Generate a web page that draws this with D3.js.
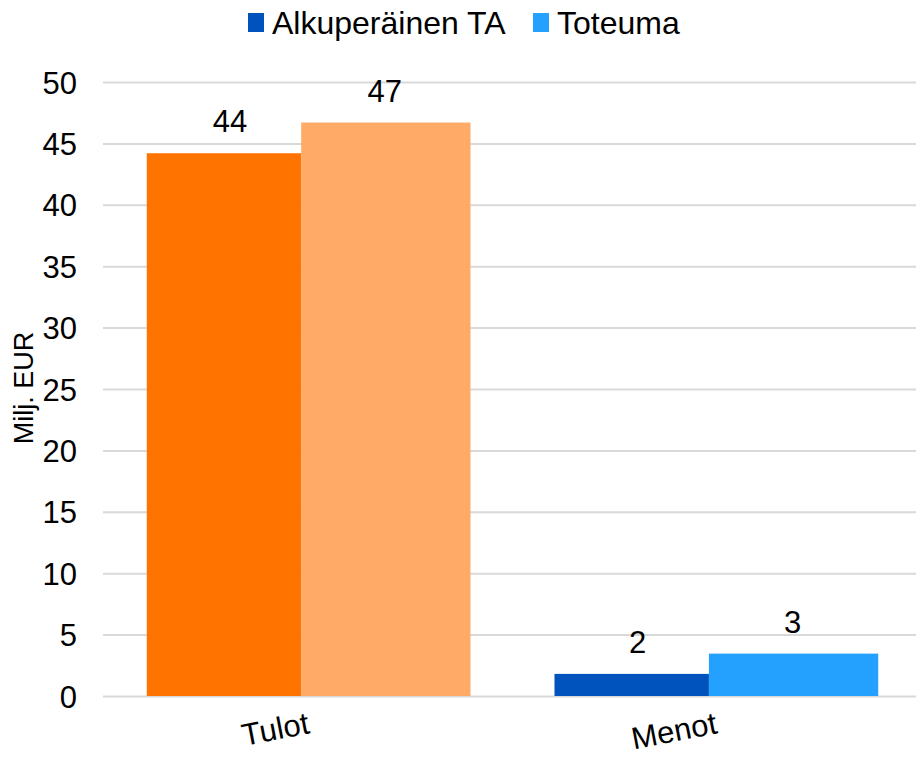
<!DOCTYPE html>
<html>
<head>
<meta charset="utf-8">
<script src="https://cdn.jsdelivr.net/npm/d3@7"></script>
<style>
  html, body { margin: 0; padding: 0; background: #fff; }
  svg { display: block; font-family: "Liberation Sans", Arial, sans-serif; }
</style>
</head>
<body>
<svg id="chart" width="916" height="757"></svg>
<script>
// ---- data ----
const categories = ["Tulot", "Menot"];
const seriesNames = ["Alkuperäinen TA", "Toteuma"];
const originalBudget = [44.2, 1.8];   // Alkuperäinen TA
const actualValues = [46.7, 3.45];    // Toteuma
const yTicks = [0, 5, 10, 15, 20, 25, 30, 35, 40, 45, 50];
const yTitle = "Milj. EUR";

// colours per category (first = Alkuperäinen TA, second = Toteuma)
const categoryColors = {
  "Tulot": ["#FF7300", "#FFAA66"],
  "Menot": ["#0052BD", "#24A0FF"]
};
const legendColors = ["#0052BD", "#24A0FF"];

// ---- layout ----
const svg = d3.select("#chart");
const plotLeft = 103, plotRight = 916, plotTop = 82, plotBottom = 696;

const x0 = d3.scaleBand().domain(categories).range([plotLeft + 3, plotRight + 3])
  .paddingInner(0.206).paddingOuter(0.1);
const y = d3.scaleLinear().domain([0, 50]).range([plotBottom, plotTop]);
const firstShare = 0.477; // first bar is slightly narrower than second
const xs = d3.scaleLinear().domain([0, 1]).range([0, x0.bandwidth()]);

// gridlines + tick labels
const yAxis = d3.axisLeft(y).tickValues(yTicks).tickSize(-(plotRight - plotLeft)).tickPadding(26);
const gy = svg.append("g").attr("transform", `translate(${plotLeft},0)`).call(yAxis);
gy.select(".domain").remove();
gy.selectAll(".tick line").attr("stroke", "#D9D9D9").attr("stroke-width", 2);
gy.selectAll(".tick text").attr("font-size", 31).attr("fill", "#000")
  .attr("font-family", "Liberation Sans, Arial, sans-serif").attr("dy", "0.36em");

// bars
const rows = categories.map((c, i) => ({ cat: c, vals: [originalBudget[i], actualValues[i]] }));
const bars = [];
rows.forEach(r => {
  r.vals.forEach((v, j) => {
    const x = x0(r.cat) + (j === 0 ? xs(0) : xs(firstShare));
    const w = j === 0 ? xs(firstShare) - xs(0) : xs(1) - xs(firstShare);
    bars.push({ cat: r.cat, j, v, x, w });
  });
});

svg.append("g").selectAll("rect").data(bars).join("rect")
  .attr("x", d => d.x)
  .attr("width", d => d.w)
  .attr("y", d => y(d.v))
  .attr("height", d => y(0) - y(d.v))
  .attr("fill", d => categoryColors[d.cat][d.j]);

// data labels
const fmt = d3.format(".0f");
svg.append("g").selectAll("text").data(bars).join("text")
  .attr("x", d => d.x + d.w / 2 + (d.j === 0 ? 6 : -1))
  .attr("y", d => y(d.v) - 21)
  .attr("text-anchor", "middle")
  .attr("font-size", 31)
  .attr("fill", "#000")
  .text(d => fmt(d.v));

// category labels (rotated)
svg.append("g").selectAll("text").data(categories).join("text")
  .attr("transform", d => `translate(${x0(d) + x0.bandwidth() / 2 + 2},733) rotate(-11)`)
  .attr("text-anchor", "end")
  .attr("font-size", 31)
  .attr("fill", "#000")
  .text(d => d);

// y title
svg.append("text")
  .attr("transform", "translate(33,388) rotate(-90)")
  .attr("text-anchor", "middle")
  .attr("font-size", 27)
  .attr("fill", "#000")
  .text(yTitle);

// legend
const legendX = [248, 533];
const lg = svg.append("g").selectAll("g").data(seriesNames).join("g")
  .attr("transform", (d, i) => `translate(${legendX[i]},0)`);
lg.append("rect").attr("x", 0).attr("y", 13).attr("width", 16).attr("height", 19)
  .attr("fill", (d, i) => legendColors[i]);
lg.append("text").attr("x", 24).attr("y", 34).attr("font-size", 32)
  .attr("fill", "#000").text(d => d);
</script>
</body>
</html>
